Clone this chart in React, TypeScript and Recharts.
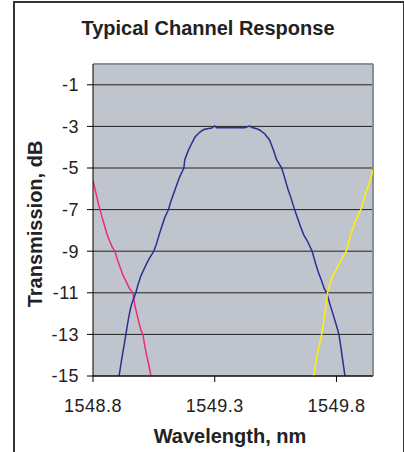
import { LineChart, Line, XAxis, YAxis, CartesianGrid, ReferenceLine } from "recharts";

const font = '"Liberation Sans", Arial, sans-serif';

const xTicks = [1548.8, 1549.3, 1549.8];
const yTicks = [-15, -13, -11, -9, -7, -5, -3, -1];

// pink channel (left neighbour)
const pinkWl = [1548.8, 1548.808, 1548.816, 1548.824, 1548.829, 1548.838, 1548.848, 1548.858, 1548.868, 1548.879, 1548.89, 1548.9, 1548.912, 1548.925, 1548.938, 1548.95, 1548.964, 1548.972, 1548.98, 1548.988, 1548.997, 1549.005, 1549.012, 1549.02, 1549.028, 1549.038];
const pinkDb = [-5.6, -6.0, -6.4, -6.8, -7.0, -7.4, -7.8, -8.2, -8.5, -8.8, -9.0, -9.4, -9.8, -10.2, -10.5, -10.8, -11.0, -11.6, -12.0, -12.4, -12.8, -13.0, -13.5, -14.0, -14.4, -15.0];

// blue channel (centre)
const blueWl = [1548.907, 1548.915, 1548.922, 1548.928, 1548.935, 1548.942, 1548.948, 1548.955, 1548.963, 1548.976, 1548.985, 1548.996, 1549.008, 1549.02, 1549.034, 1549.05, 1549.062, 1549.072, 1549.083, 1549.094, 1549.11, 1549.12, 1549.132, 1549.144, 1549.157, 1549.173, 1549.177, 1549.19, 1549.206, 1549.22, 1549.239, 1549.255, 1549.275, 1549.288, 1549.3, 1549.308, 1549.34, 1549.38, 1549.423, 1549.443, 1549.456, 1549.47, 1549.484, 1549.505, 1549.525, 1549.54, 1549.554, 1549.575, 1549.588, 1549.6, 1549.612, 1549.628, 1549.64, 1549.652, 1549.665, 1549.68, 1549.7, 1549.712, 1549.725, 1549.738, 1549.75, 1549.76, 1549.772, 1549.785, 1549.798, 1549.81, 1549.818, 1549.825, 1549.835];
const blueDb = [-15.0, -14.4, -13.9, -13.5, -13.0, -12.5, -12.1, -11.7, -11.4, -11.0, -10.6, -10.2, -9.9, -9.6, -9.3, -9.0, -8.6, -8.2, -7.8, -7.4, -7.0, -6.6, -6.2, -5.8, -5.4, -5.0, -4.6, -4.2, -3.8, -3.5, -3.27, -3.15, -3.1, -3.08, -2.98, -3.07, -3.07, -3.07, -3.07, -2.98, -3.07, -3.1, -3.17, -3.35, -3.65, -4.1, -4.6, -5.0, -5.5, -6.0, -6.4, -7.0, -7.4, -7.8, -8.2, -8.5, -9.0, -9.5, -10.0, -10.4, -10.8, -11.0, -11.5, -12.0, -12.5, -13.0, -13.6, -14.2, -15.0];

// yellow channel (right neighbour)
const yellowWl = [1549.706, 1549.714, 1549.722, 1549.73, 1549.739, 1549.746, 1549.752, 1549.758, 1549.763, 1549.772, 1549.784, 1549.798, 1549.812, 1549.826, 1549.84, 1549.852, 1549.864, 1549.876, 1549.888, 1549.9, 1549.91, 1549.92, 1549.93, 1549.94, 1549.95];
const yellowDb = [-15.0, -14.4, -13.9, -13.5, -13.0, -12.5, -12.0, -11.5, -11.0, -10.6, -10.2, -9.9, -9.6, -9.3, -9.0, -8.5, -8.0, -7.6, -7.3, -7.0, -6.6, -6.2, -5.9, -5.5, -5.1];

const pts = (wl: number[], db: number[]) => wl.map((w, i) => ({ wl: w, db: db[i] }));

const tickStyle = { fontSize: 18, fill: "#222", fontFamily: font, letterSpacing: 0.5 };

export default function App() {
  return (
    <div style={{ position: "absolute", left: 0, top: 0, width: 404, height: 452, overflow: "hidden", background: "#fff", fontFamily: font }}>
      <div style={{ position: "absolute", left: 13, top: 1, width: 388, height: 480, border: "2px solid #333" }} />
      <div style={{ position: "absolute", left: 0, top: 18, width: 416, textAlign: "center", fontSize: 20, lineHeight: "20px", fontWeight: "bold", color: "#222" }}>
        Typical Channel Response
      </div>
      <div style={{ position: "absolute", left: 0, top: 426, width: 460, textAlign: "center", fontSize: 20, lineHeight: "20px", fontWeight: "bold", color: "#222" }}>
        Wavelength, nm
      </div>
      <div style={{ position: "absolute", left: 35 - 110, top: 224 - 10, width: 220, textAlign: "center", fontSize: 20, lineHeight: "20px", fontWeight: "bold", color: "#222", transform: "rotate(-90deg)" }}>
        Transmission, dB
      </div>
      <div style={{ position: "absolute", left: 0, top: 0 }}>
        <LineChart width={404} height={452} margin={{ top: 64, right: 31, bottom: 46, left: 33 }}>
          <CartesianGrid vertical={false} stroke="#222" fill="#c0c4cc" fillOpacity={1} />
          <XAxis type="number" dataKey="wl" domain={[1548.8, 1549.95]} ticks={xTicks} allowDataOverflow
            tickFormatter={(v: number) => v.toFixed(1)} stroke="#000" tick={tickStyle} tickSize={6} tickMargin={17} height={30} />
          <YAxis type="number" dataKey="db" domain={[-15, 0]} ticks={yTicks} allowDataOverflow
            stroke="#000" tick={tickStyle} tickSize={6} tickMargin={8} width={60} />
          <ReferenceLine y={0} stroke="#8b8f98" strokeWidth={2} />
          <ReferenceLine x={1549.95} stroke="#8b8f98" strokeWidth={2} />
          <Line data={pts(pinkWl, pinkDb)} dataKey="db" stroke="#ee2a7b" strokeWidth={1.5} dot={false} isAnimationActive={false} type="linear" />
          <Line data={pts(blueWl, blueDb)} dataKey="db" stroke="#2b2f8f" strokeWidth={1.5} dot={false} isAnimationActive={false} type="linear" />
          <Line data={pts(yellowWl, yellowDb)} dataKey="db" stroke="#fff200" strokeWidth={1.5} dot={false} isAnimationActive={false} type="linear" />
        </LineChart>
      </div>
    </div>
  );
}
